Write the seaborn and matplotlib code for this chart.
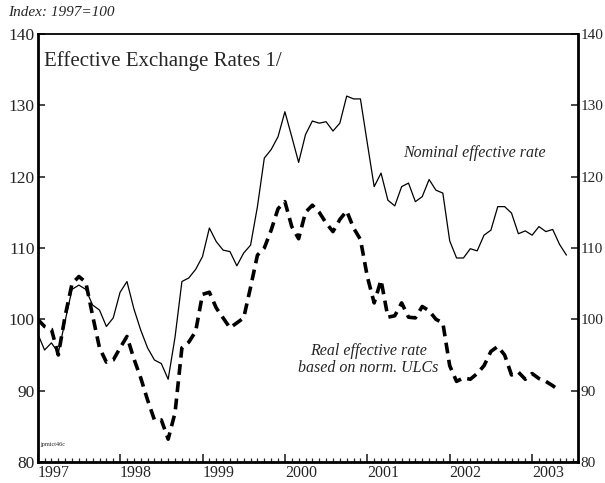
import numpy as np
import pandas as pd
import matplotlib
matplotlib.use("Agg")
import matplotlib.pyplot as plt
import seaborn as sns

# Monthly data, Jan 1997 onward (index 1997=100)
nominal = [98.0, 95.7, 96.7, 95.3, 99.8, 104.2, 104.8, 104.2, 102.0, 101.3, 99.0, 100.2,
           103.8, 105.3, 101.5, 98.5, 96.0, 94.3, 93.8, 91.6, 97.5, 105.3, 105.8, 107.0,
           108.8, 112.8, 110.9, 109.7, 109.5, 107.5, 109.3, 110.4, 115.8, 122.6, 123.8, 125.6,
           129.1, 125.6, 122.0, 125.9, 127.8, 127.5, 127.7, 126.4, 127.5, 131.3, 130.9, 130.9,
           124.7, 118.6, 120.5, 116.7, 115.9, 118.6, 119.1, 116.5, 117.2, 119.6, 118.1, 117.7,
           111.0, 108.6, 108.6, 109.9, 109.6, 111.8, 112.5, 115.8, 115.8, 114.9, 112.0, 112.4,
           111.8, 113.0, 112.3, 112.6, 110.5, 109.0]
real = [100.0, 99.0, 98.6, 95.0, 100.5, 105.0, 106.0, 105.2, 100.5, 96.0, 94.0, 94.3,
        96.0, 97.6, 94.5, 91.8, 88.7, 85.9, 85.9, 83.2, 86.9, 96.0, 96.8, 98.3,
        103.5, 103.8, 101.6, 100.2, 98.8, 99.5, 100.2, 104.5, 109.0, 110.0, 112.5, 115.5,
        116.5, 113.0, 111.3, 115.0, 116.0, 115.0, 113.5, 112.3, 114.0, 115.2, 112.8, 111.2,
        106.0, 102.3, 105.5, 100.3, 100.5, 102.3, 100.3, 100.2, 101.8, 101.2, 100.0, 99.5,
        93.5, 91.3, 91.8, 91.6, 92.4, 93.5, 95.5, 96.2, 95.0, 92.2, 92.6, 91.6,
        92.4, 91.7, 91.3, 90.7, 90.0]
years = [1997, 1998, 1999, 2000, 2001, 2002, 2003]
yticks = [80, 90, 100, 110, 120, 130, 140]

t_nom = 1997 + np.arange(len(nominal)) / 12.0
t_real = 1997 + np.arange(len(real)) / 12.0
df = pd.concat([
    pd.DataFrame({"t": t_nom, "v": nominal, "s": "Nominal"}),
    pd.DataFrame({"t": t_real, "v": real, "s": "Real"}),
])

sns.set_style("ticks")
plt.rcParams['font.family'] = ['Liberation Serif', 'DejaVu Serif']

fig = plt.figure(figsize=(6.05, 4.83), dpi=100)
ax = fig.add_axes([37.7/605, 1 - 462/483, (578-37.7)/605, (462-34)/483])

sns.lineplot(data=df[df.s == "Nominal"], x="t", y="v", ax=ax, color="black",
             linewidth=0.9, legend=False)
sns.lineplot(data=df[df.s == "Real"], x="t", y="v", ax=ax, color="black",
             linewidth=2.6, legend=False)
ax.lines[1].set_dashes([3.0, 1.8])

ax.set_xlim(1997, 1997 + (578 - 37.7) / 82.4)
ax.set_ylim(80, 140)
ax.set_xlabel("")
ax.set_ylabel("")

ax.set_yticks(yticks)
ax.set_yticklabels([str(v) for v in yticks], fontsize=12.5)
ax.tick_params(axis='y', which='both', direction='in', left=True, right=True,
               labelleft=True, labelright=True, length=5, width=1.2, pad=3)
for tk in ax.yaxis.get_major_ticks():
    tk.label2.set_fontsize(11)
    tk.set_pad(2)

ax.set_xticks(years)
ax.set_xticklabels([str(y) for y in years], fontsize=11.5, ha='left')
ax.set_xticks(1997 + np.arange(0, 79) / 12.0, minor=True)
ax.tick_params(axis='x', which='major', direction='in', length=6, width=1.2, pad=2)
ax.tick_params(axis='x', which='minor', direction='in', length=3, width=0.9)
ax.tick_params(axis='x', which='both', top=False)

for side, lw in [("left", 2.0), ("bottom", 2.0), ("right", 2.0), ("top", 1.3)]:
    ax.spines[side].set_linewidth(lw)
    ax.spines[side].set_color("black")

fig.text(8/605, 1 - 13/483, "Index: 1997=100", fontsize=11, style='italic',
         ha='left', va='center')
ax.text(0.012, 0.96, "Effective Exchange Rates 1/", transform=ax.transAxes,
        fontsize=15, ha='left', va='top')
ax.text(0.808, 0.722, "Nominal effective rate", transform=ax.transAxes,
        fontsize=11.5, style='italic', ha='center', va='center')
ax.text(0.612, 0.24, "Real effective rate\nbased on norm. ULCs", transform=ax.transAxes,
        fontsize=11.5, style='italic', ha='center', va='center', linespacing=1.05)
ax.text(0.004, 0.035, "jpmict46c", transform=ax.transAxes, fontsize=4.5,
        ha='left', va='bottom')

fig.savefig("out.png", dpi=100)
